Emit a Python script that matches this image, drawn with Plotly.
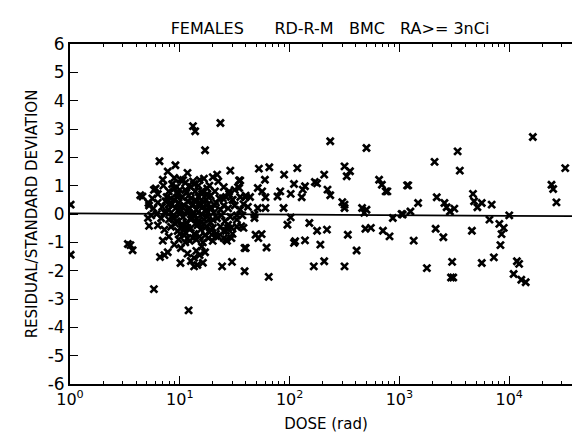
import plotly.graph_objects as go
import numpy as np

# (log10 dose, residual/SD) pairs
log_dose = [
    0.006, 0.006,
    0.527, 0.55, 0.57,
    0.64, 0.66, 0.715, 0.764, 0.71, 0.72, 0.764,
    0.815, 0.845, 0.89, 0.96, 0.95, 1.006, 1.07, 1.12, 1.14, 1.23, 1.37, 1.46, 1.54, 1.34,
    0.845, 0.82, 0.86, 0.89, 0.95, 1.006, 1.01, 1.05, 1.07, 1.1, 1.13, 1.16, 1.21, 1.08,
    1.385, 1.475, 1.59, 1.59, 1.43, 1.40, 1.33,
    1.72, 1.815, 1.55, 1.775, 1.95, 2.07, 2.04, 2.14, 2.12, 2.23, 2.25, 2.315, 2.37,
    2.50, 2.55, 2.52, 2.70, 2.815, 2.84, 2.875, 3.07, 2.345, 2.37, 1.915, 1.89, 2.01, 2.11,
    1.945, 2.48, 2.50, 2.50, 2.66, 2.70, 2.68, 2.94, 3.02, 1.98, 2.01, 2.18, 2.25, 2.34,
    2.53, 2.69, 2.74, 2.85, 2.91, 2.05, 2.04, 2.14, 2.28, 1.79, 1.60, 1.715, 1.745, 1.69,
    1.58, 1.56, 1.68, 1.68, 1.52, 2.61, 1.81, 2.22, 2.315, 2.50,
    1.44, 1.47, 1.42, 1.39, 1.45, 1.48, 1.54, 1.53, 1.60, 1.64, 1.71, 1.75, 1.78, 1.71, 1.78,
    2.89, 3.08, 3.17, 3.10, 3.03, 3.13, 3.32, 3.53, 3.55, 3.34, 3.41, 3.43, 3.46, 3.50,
    3.33, 3.40, 3.25, 3.48, 3.47, 3.49, 3.66, 3.67, 3.68, 3.71, 3.75, 3.84, 3.75, 3.82,
    3.91, 3.95, 3.93, 3.92, 3.86, 4.0, 4.07, 4.09, 4.04, 4.11, 4.15, 4.215, 4.385, 4.40,
    4.43, 4.51,
    0.78, 0.85, 0.93, 1.05, 1.12, 1.18, 1.22, 1.27, 1.30, 1.35, 1.10, 1.00, 1.40, 1.45, 1.50,
    0.75, 0.80, 0.88, 0.90, 0.95, 0.98, 1.02, 1.06, 1.10, 1.14, 1.17, 1.20, 1.24, 1.28,
    1.32, 1.36, 1.42, 1.48, 1.55, 1.60, 1.25, 1.15,
    0.72, 0.76, 0.80, 0.84, 0.87, 0.90, 0.93, 0.96, 0.99, 1.01, 1.04, 1.07, 1.09, 1.12,
    1.15, 1.18, 1.21, 1.23, 1.26, 1.29, 1.33, 1.37, 1.40, 1.44, 1.50, 1.55, 1.58, 1.62,
    0.74, 0.79, 0.83, 0.86, 0.90, 0.94, 0.97, 1.00, 1.03, 1.06, 1.08, 1.11, 1.14, 1.17,
    1.20, 1.22, 1.25, 1.28, 1.31, 1.34, 1.38, 1.41, 1.46, 1.52, 1.57,
    0.80, 0.86, 0.92, 0.98, 1.02, 1.05, 1.10, 1.13, 1.16, 1.19, 1.24, 1.27, 1.30, 1.33,
    1.37, 1.40, 1.44, 1.48, 1.52,
    0.90, 0.99, 1.04, 1.09, 1.12, 1.18, 1.21, 1.26, 1.30, 1.35, 1.42, 1.47,
    1.15, 1.18, 1.20, 1.23, 1.07, 1.13,
    0.88, 0.92, 0.96, 1.00, 1.04, 1.08, 1.12, 1.16, 1.20, 1.24, 1.28, 1.32,
    0.90, 0.94, 0.98, 1.02, 1.06, 1.10, 1.14, 1.18, 1.22, 1.26, 1.30,
    0.95, 1.00, 1.05, 1.10, 1.15, 1.20, 1.25,
    1.03, 1.13, 1.23,
    0.97, 1.07, 1.17, 1.27,
]
residual = [
    0.33, -1.44,
    -1.06, -1.1, -1.28,
    0.66, 0.62, 0.39, 0.85, -0.14, -0.42, -2.65,
    1.86, 1.21, 1.50, 1.72, 1.27, 1.21, 1.45, 3.10, 2.92, 2.25, 3.21, 1.53, 1.18, 1.39,
    -0.94, -1.52, -1.45, -1.35, -1.08, -1.73, -1.2, -1.0, -0.49, -1.66, -1.85, -1.8, -1.72, -3.40,
    -1.85, -1.69, -2.02, -1.2, -0.95, -0.85, -0.78,
    1.60, 1.65, 1.18, 1.21, 1.39, 1.62, 1.06, 0.98, 0.86, 1.13, 1.08, 1.39, 2.57,
    1.68, 1.51, 1.33, 2.33, 1.21, 1.03, 0.80, 1.01, 0.86, 0.66, 0.80, 0.62, 0.71, 0.59,
    0.21, 0.42, 0.33, 0.21, 0.21, 0.15, 0.04, -0.14, 0.0, -0.38, -0.12, -0.32, -0.59, -0.55,
    -0.73, -0.52, -0.49, -0.59, -0.79, -0.96, -1.02, -0.93, -1.08, -1.18, -1.2, -0.85, -0.71, -0.73,
    -0.49, -0.43, -0.14, -0.02, -0.05, -1.29, -2.22, -1.85, -1.67, -1.85,
    -0.38, -0.49, -0.6, 0.56, 0.7, 0.5, 0.92, 0.95, 0.6, 0.6, 0.92, 0.8, 0.59, 0.21, 0.21,
    0.80, 1.01, 0.39, 0.09, -0.02, -0.94, 1.84, 2.21, 1.53, 0.59, 0.39, 0.24, 0.09, 0.19,
    -0.52, -0.82, -1.91, -1.69, -2.24, -2.24, -0.59, 0.71, 0.45, 0.24, 0.39, 0.33, -1.73, -0.2,
    -0.35, -0.49, -0.71, -1.1, -1.53, -0.05, -1.67, -1.76, -2.12, -2.32, -2.41, 2.72, 1.03, 0.88,
    0.41, 1.62,
    0.9, 1.0, 1.05, 1.1, 1.15, 1.2, 1.25, 1.0, 1.3, 1.15, 0.95, 0.85, 0.95, 0.8, 0.85,
    0.55, 0.7, 0.6, 0.8, 0.5, 0.7, 0.6, 0.75, 0.55, 0.8, 0.6, 0.7, 0.5, 0.65,
    0.8, 0.55, 0.6, 0.5, 0.6, 0.65, 0.9, 0.45,
    0.3, 0.2, 0.4, 0.25, 0.45, 0.15, 0.35, 0.2, 0.4, 0.1, 0.3, 0.45, 0.2, 0.35,
    0.15, 0.4, 0.25, 0.1, 0.35, 0.2, 0.4, 0.15, 0.3, 0.2, 0.3, 0.15, 0.35, 0.25,
    -0.05, 0.0, -0.15, 0.05, -0.2, -0.05, -0.25, 0.0, -0.1, -0.3, 0.05, -0.15, -0.05, -0.25,
    0.0, -0.2, -0.1, -0.3, 0.05, -0.15, -0.05, -0.25, -0.1, -0.2, -0.05,
    -0.4, -0.55, -0.45, -0.6, -0.35, -0.65, -0.5, -0.7, -0.4, -0.55, -0.45, -0.65, -0.5, -0.7,
    -0.45, -0.6, -0.5, -0.7, -0.45,
    -0.8, -0.9, -0.75, -0.95, -0.85, -0.8, -1.0, -0.85, -0.95, -0.8, -0.9, -0.85,
    -1.3, -1.45, -1.15, -1.35, -1.4, -1.55,
    0.05, 0.55, -0.35, 0.25, -0.5, 0.65, 0.0, -0.3, 0.5, 0.15, -0.55, 0.3,
    0.35, -0.15, 0.6, -0.45, 0.1, -0.2, 0.5, 0.3, -0.35, 0.6, -0.2,
    0.9, -0.7, 0.85, 0.95, -0.9, 0.8, 0.7,
    1.2, 1.05, -0.75,
    0.95, -0.85, 1.0, 0.2,
]

fit_dose = [1.0, 46000.0]
fit_resid = [0.02, -0.08]

dose = [10 ** v for v in log_dose]

title_text = ("FEMALES" + "&nbsp;" * 6 + "RD-R-M" + "&nbsp;" * 3 + "BMC"
              + "&nbsp;" * 3 + "RA>= 3nCi")
x_major = [1, 10, 100, 1000, 10000]
x_major_text = ["10<sup>0</sup>", "10<sup>1</sup>", "10<sup>2</sup>", "10<sup>3</sup>", "10<sup>4</sup>"]
x_minor = [m * d for d in [1, 10, 100, 1000, 10000] for m in range(2, 10)]
y_ticks = list(range(-6, 7))
y_text = [str(v) for v in y_ticks]  # ASCII hyphen minus, as in the original

FONT = "DejaVu Sans"

fig = go.Figure()
fig.add_trace(go.Scatter(
    x=fit_dose, y=fit_resid, mode="lines",
    line=dict(color="black", width=1.8), hoverinfo="skip", showlegend=False))
fig.add_trace(go.Scatter(
    x=dose, y=residual, mode="markers",
    marker=dict(symbol="x-thin", size=7, color="black",
                line=dict(color="black", width=2.7)),
    showlegend=False))

fig.update_layout(
    width=580, height=432,
    margin=dict(l=62, r=4, t=36, b=56),
    paper_bgcolor="white", plot_bgcolor="white",
    title=dict(text=title_text, xref="container", x=322 / 580, xanchor="center",
               yref="container", y=1 - 20 / 432, yanchor="middle",
               font=dict(family=FONT, size=16, color="black")),
    font=dict(family=FONT, color="black"),
)
fig.update_xaxes(
    type="log", range=[0, np.log10(46000)],
    tickmode="array", tickvals=x_major, ticktext=x_major_text,
    ticks="inside", ticklen=8, tickwidth=1.4, tickcolor="black",
    minor=dict(tickmode="array", tickvals=x_minor, ticks="inside", ticklen=3.5,
               tickwidth=1.3, tickcolor="black", showgrid=False),
    showline=True, linecolor="black", linewidth=1.8, mirror="allticks",
    showgrid=False, zeroline=False,
    tickfont=dict(family=FONT, size=16, color="black"),
    title=dict(text="DOSE (rad)", font=dict(family=FONT, size=15, color="black"), standoff=10),
)
fig.update_yaxes(
    range=[-6, 6], tickmode="array", tickvals=y_ticks, ticktext=y_text,
    ticks="inside", ticklen=8, tickwidth=1.4, tickcolor="black",
    showline=True, linecolor="black", linewidth=1.8, mirror="allticks",
    showgrid=False, zeroline=False,
    tickfont=dict(family=FONT, size=17, color="black"),
    title=dict(text="RESIDUAL/STANDARD DEVIATION", font=dict(family=FONT, size=15, color="black"), standoff=6),
)

fig.write_html("out.html")
